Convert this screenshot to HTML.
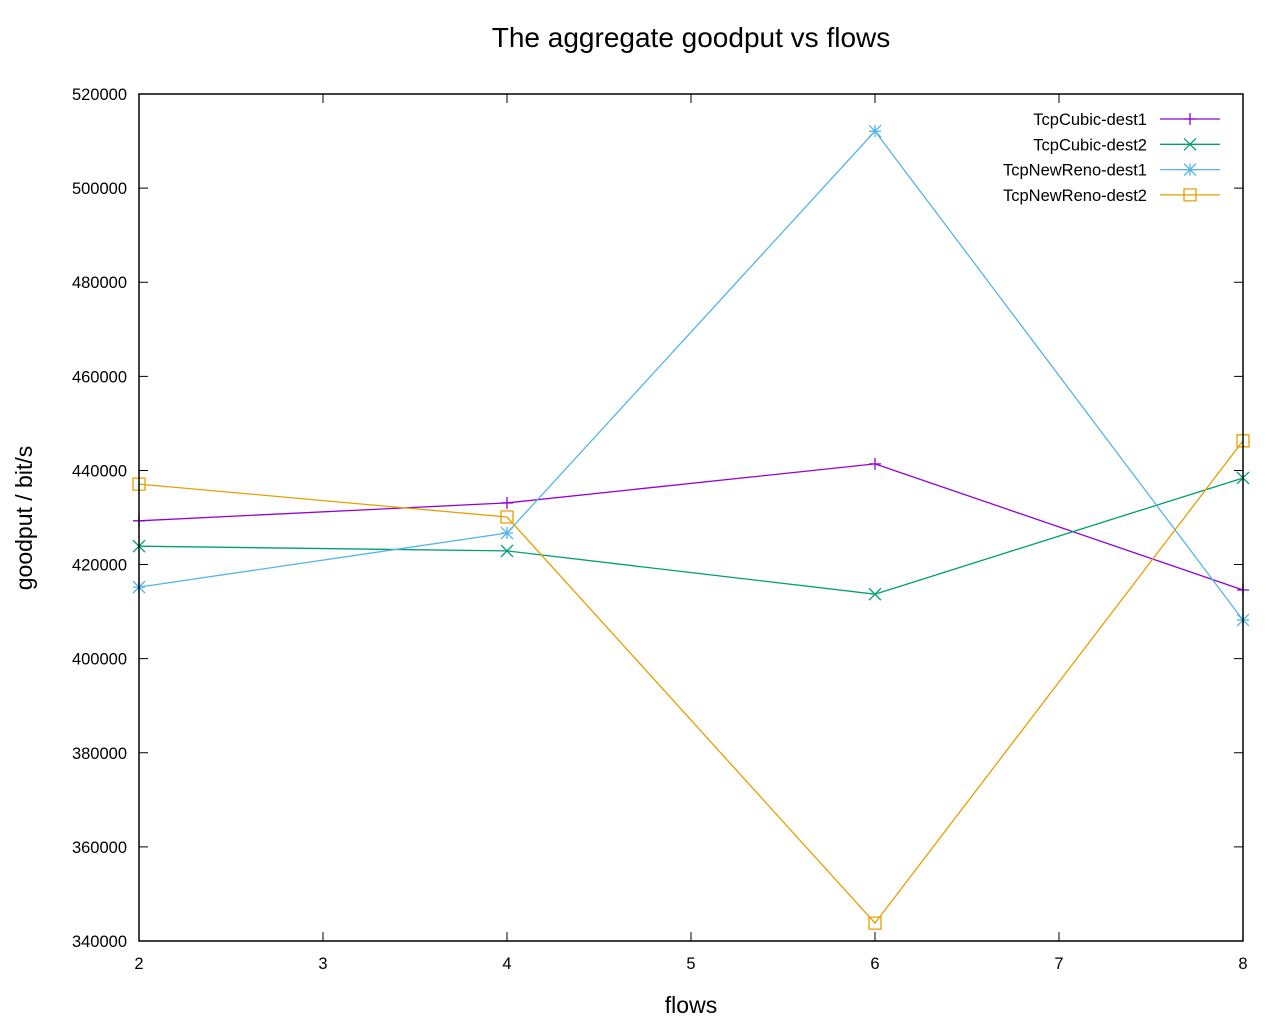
<!DOCTYPE html>
<html><head><meta charset="utf-8"><style>
body{margin:0;background:#fff;}
svg text{font-family:"Liberation Sans",Arial,sans-serif;}
</style></head><body>
<svg id="chart" width="1280" height="1024" xmlns="http://www.w3.org/2000/svg">
<rect width="1280" height="1024" fill="#fff"/>
<text x="691" y="47" font-size="28" text-anchor="middle">The aggregate goodput vs flows</text>
<text x="691" y="1013" font-size="23" text-anchor="middle">flows</text>
<text transform="translate(32,518) rotate(-90)" font-size="23" text-anchor="middle">goodput / bit/s</text>
<g id="axes"></g><g id="series"></g><g id="legend"></g>
<rect x="139" y="94" width="1104" height="847" fill="none" stroke="#000" stroke-width="1.5"/>
</svg>
<script>
const xCategories=[2,4,6,8];
const xTicks=[2,3,4,5,6,7,8];
const yTicks=[340000,360000,380000,400000,420000,440000,460000,480000,500000,520000];
const seriesNames=["TcpCubic-dest1","TcpCubic-dest2","TcpNewReno-dest1","TcpNewReno-dest2"];
const cubic1=[429300,433100,441400,414600];
const cubic2=[423900,422900,413700,438400];
const newreno1=[415200,426700,512100,408200];
const newreno2=[437100,430100,343800,446300];
const seriesValues=[cubic1,cubic2,newreno1,newreno2];
const colors=["#9400d3","#009e73","#56b4e9","#e69f00"];
const markers=["plus","cross","star","square"];
const L=139,R=1243,T=94,B=941;
const xs=v=>L+(v-2)/(8-2)*(R-L);
const ys=v=>B-(v-340000)/(520000-340000)*(B-T);
const NS="http://www.w3.org/2000/svg";
function mk(tag,attrs,parent){const e=document.createElementNS(NS,tag);for(const k in attrs)e.setAttribute(k,attrs[k]);parent.appendChild(e);return e;}
const axes=document.getElementById('axes');
xTicks.forEach(t=>{
 const x=xs(t);
 const l=mk('path',{d:`M${x},${B}v-9M${x},${T}v9`,stroke:'#000','stroke-width':1},axes);
 
 
 const tx=mk('text',{x:x,y:B+28,'font-size':16.5,'text-anchor':'middle'},axes);tx.textContent=t;
 
 
});
yTicks.forEach(t=>{
 const y=ys(t);
 const l=mk('path',{d:`M${L},${y}h9M${R},${y}h-9`,stroke:'#000','stroke-width':1},axes);
 
 
 const tx=mk('text',{x:L-12,y:y+6,'font-size':16.5,'text-anchor':'end'},axes);tx.textContent=t;
 
 
});
function marker(type,x,y,c,parent){
 const s=6;let d;
 if(type==='plus')d=`M${x-s},${y}h${2*s}M${x},${y-s}v${2*s}`;
 else if(type==='cross')d=`M${x-s},${y-s}l${2*s},${2*s}M${x-s},${y+s}l${2*s},${-2*s}`;
 else if(type==='star')d=`M${x-s},${y}h${2*s}M${x},${y-s}v${2*s}M${x-s},${y-s}l${2*s},${2*s}M${x-s},${y+s}l${2*s},${-2*s}`;
 else d=`M${x-s},${y-s}h${2*s}v${2*s}h${-2*s}z`;
 const m=mk('path',{d:d,stroke:c,'stroke-width':1.3,fill:'none'},parent);
 
 
}
const sg=document.getElementById('series');
const lg=document.getElementById('legend');
seriesValues.forEach((vals,i)=>{
 const g=mk('g',{},sg);
 
 
 const pts=vals.map((v,j)=>xs(xCategories[j])+','+ys(v)).join(' ');
 const pl=mk('polyline',{points:pts,fill:'none',stroke:colors[i],'stroke-width':1.3},g);
 
 
 vals.forEach((v,j)=>marker(markers[i],xs(xCategories[j]),ys(v),colors[i],g));
 const ly=119+i*25.3;
 const e=mk('g',{},lg);
 
 
 const t=mk('text',{x:1147,y:ly+6,'font-size':16.5,'text-anchor':'end'},e);t.textContent=seriesNames[i];
 mk('line',{x1:1160,x2:1220,y1:ly,y2:ly,stroke:colors[i],'stroke-width':1.3},e);
 marker(markers[i],1190,ly,colors[i],e);
});
</script>
</body></html>
